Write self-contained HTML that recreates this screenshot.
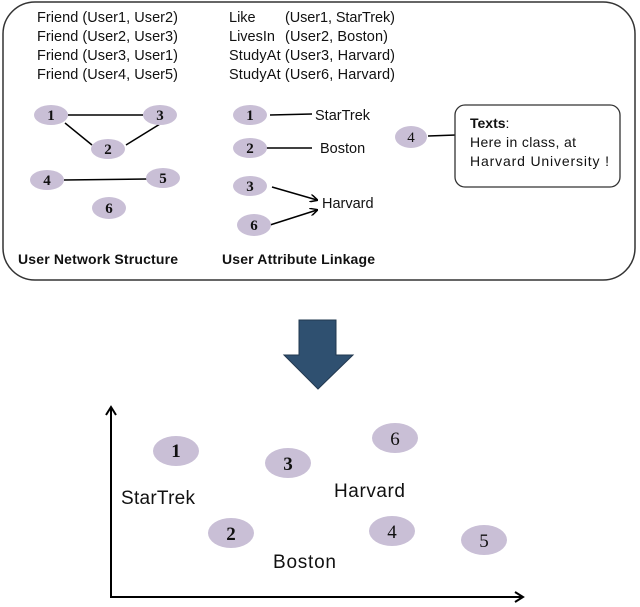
<!DOCTYPE html>
<html><head><meta charset="utf-8"><style>html,body{margin:0;padding:0;background:#fff}svg{display:block}</style></head><body>
<svg width="640" height="607" viewBox="0 0 640 607" xmlns="http://www.w3.org/2000/svg">
<defs><marker id="a" markerWidth="8" markerHeight="8" refX="7" refY="4" orient="auto" markerUnits="userSpaceOnUse"><path d="M0,0 L8,4 L0,8" fill="none" stroke="#000" stroke-width="1.5"/></marker></defs>
<rect x="3" y="2" width="632" height="278" rx="32" fill="#fff" stroke="#333" stroke-width="1.5"/>
<g font-family="Liberation Sans, sans-serif" font-size="14.5" fill="#111">
<text x="37" y="22" textLength="141">Friend (User1, User2)</text>
<text x="37" y="41" textLength="141">Friend (User2, User3)</text>
<text x="37" y="60" textLength="141">Friend (User3, User1)</text>
<text x="37" y="79" textLength="141">Friend (User4, User5)</text>
<text x="229" y="22">Like</text><text x="285" y="22" textLength="110">(User1, StarTrek)</text>
<text x="229" y="41">LivesIn</text><text x="285" y="41" textLength="103">(User2, Boston)</text>
<text x="229" y="60" textLength="166">StudyAt (User3, Harvard)</text>
<text x="229" y="79" textLength="166">StudyAt (User6, Harvard)</text>
<text x="315" y="120">StarTrek</text>
<text x="320" y="153">Boston</text>
<text x="322" y="208">Harvard</text>
<text x="18" y="264" font-weight="bold" font-size="14" textLength="160">User Network Structure</text>
<text x="222" y="264" font-weight="bold" font-size="14" textLength="153">User Attribute Linkage</text>
</g>
<g stroke="#000" stroke-width="1.5" fill="none">
<line x1="68" y1="115" x2="143" y2="115"/>
<line x1="65" y1="123" x2="92" y2="145"/>
<line x1="126" y1="145" x2="160" y2="124"/>
<line x1="64" y1="180" x2="147" y2="179"/>
<line x1="270" y1="115" x2="312" y2="114"/>
<line x1="262" y1="148" x2="312" y2="148"/>
<line x1="272" y1="187" x2="317" y2="200" marker-end="url(#a)"/>
<line x1="270" y1="225" x2="317" y2="210" marker-end="url(#a)"/>
<line x1="428" y1="136" x2="456" y2="135"/>
</g>
<g fill="#c9bfd6">
<ellipse cx="51" cy="115" rx="17" ry="10"/><ellipse cx="160" cy="115" rx="17" ry="10"/>
<ellipse cx="108" cy="149" rx="17" ry="10"/><ellipse cx="47" cy="180" rx="17" ry="10"/>
<ellipse cx="163" cy="178" rx="17" ry="10"/><ellipse cx="109" cy="208" rx="17" ry="11"/>
<ellipse cx="250" cy="115" rx="17" ry="10"/><ellipse cx="250" cy="148" rx="17" ry="10"/>
<ellipse cx="250" cy="186" rx="17" ry="10"/><ellipse cx="254" cy="225" rx="17" ry="11"/>
<ellipse cx="411" cy="137" rx="16" ry="11"/>
<ellipse cx="176" cy="451" rx="23" ry="15"/><ellipse cx="288" cy="463" rx="23" ry="15"/>
<ellipse cx="395" cy="438" rx="23" ry="15"/><ellipse cx="231" cy="533" rx="23" ry="15"/>
<ellipse cx="392" cy="531" rx="23" ry="15"/><ellipse cx="484" cy="540" rx="23" ry="15"/>
</g>
<g font-family="Liberation Serif, serif" font-size="15" fill="#111" text-anchor="middle" font-weight="bold">
<text x="51" y="120">1</text><text x="160" y="120">3</text><text x="108" y="154">2</text>
<text x="47" y="185">4</text><text x="163" y="183">5</text><text x="109" y="213">6</text>
<text x="250" y="120">1</text><text x="250" y="153">2</text><text x="250" y="191">3</text><text x="254" y="230">6</text>
<text x="411" y="142" font-weight="normal">4</text>
<g font-size="19"><text x="176" y="457">1</text><text x="288" y="470">3</text><text x="395" y="445" font-weight="normal">6</text>
<text x="231" y="540">2</text><text x="392" y="538" font-weight="normal">4</text><text x="484" y="547" font-weight="normal">5</text></g>
</g>
<rect x="455" y="105" width="165" height="82" rx="10" fill="#fff" stroke="#333" stroke-width="1.3"/>
<g font-family="Liberation Sans, sans-serif" font-size="14" fill="#111">
<text x="470" y="128"><tspan font-weight="bold">Texts</tspan>:</text>
<text x="470" y="147" textLength="106">Here in class, at</text>
<text x="470" y="166" textLength="139">Harvard University !</text>
</g>
<path d="M299,320 H336 V355 H353 L318,389 L284,355 H299 Z" fill="#2f5070" stroke="#22384f" stroke-width="1"/>
<g stroke="#000" stroke-width="2" fill="none">
<line x1="111" y1="597" x2="111" y2="409"/><path d="M106,415 L111,407 L116,415"/>
<line x1="110" y1="597" x2="521" y2="597"/><path d="M515,592 L523,597 L515,602"/>
</g>
<g font-family="Liberation Sans, sans-serif" font-size="19" fill="#111">
<text x="121" y="504" textLength="74">StarTrek</text>
<text x="334" y="497" textLength="71">Harvard</text>
<text x="273" y="568" textLength="63">Boston</text>
</g>
</svg>
</body></html>
